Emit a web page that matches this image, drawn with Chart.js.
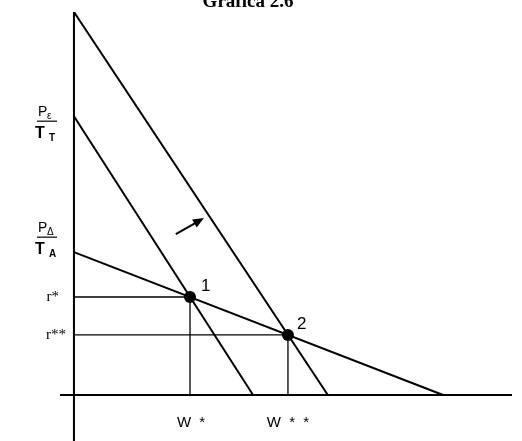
<!DOCTYPE html>
<html>
<head>
<meta charset="utf-8">
<script src="https://cdn.jsdelivr.net/npm/chart.js@4"></script>
<style>
  body { margin: 0; background: #fff; }
  canvas { display: block; }
</style>
</head>
<body>
<canvas id="myChart" width="522" height="441"></canvas>
<script>
// curves: initial line, shifted line, and the flatter one
const curveNames = ["inicial", "desplazada", "plana"];
const yIntercepts = [72.8, 100, 37.3];
const xIntercepts = [64.2, 91, 132.3];

// equilibrium points 1 and 2
const eqLabels = ["1", "2"];
const eqW = [41.6, 76.7];
const eqR = [25.6, 15.7];

const wTickLabels = ["W *", "W * *"];
const rTickLabels = ["r*", "r**"];

// arrow showing the shift
const arrowFrom = [36.5, 42.0];
const arrowTo = [46.6, 46.2];

const black = "#000";

let datasets = [];

// axes
datasets.push({ data: [{ x: 0, y: -12 }, { x: 0, y: 100 }], borderWidth: 2 });
datasets.push({ data: [{ x: -5, y: 0 }, { x: 157, y: 0 }], borderWidth: 2 });

curveNames.forEach((name, i) => {
  datasets.push({
    label: name,
    data: [{ x: 0, y: yIntercepts[i] }, { x: xIntercepts[i], y: 0 }],
    borderWidth: 2,
  });
});

eqW.forEach((w, i) => {
  datasets.push({
    data: [{ x: 0, y: eqR[i] }, { x: w, y: eqR[i] }, { x: w, y: 0 }],
    borderWidth: 1.3,
  });
});

datasets.push({
  data: eqW.map((w, i) => ({ x: w, y: eqR[i] })),
  showLine: false,
  pointRadius: 6,
  pointBackgroundColor: black,
  pointBorderWidth: 0,
});

datasets.forEach((d) => {
  d.borderColor = black;
  if (d.showLine === undefined) {
    d.showLine = true;
    d.pointRadius = 0;
  }
});

const labelsPlugin = {
  id: "labels",
  afterDatasetsDraw(chart) {
    const c = chart.ctx;
    const sx = chart.scales.x, sy = chart.scales.y;
    const px = (v) => sx.getPixelForValue(v);
    const py = (v) => sy.getPixelForValue(v);
    c.save();
    c.fillStyle = black;
    c.strokeStyle = black;

    // title, cut by the top edge
    c.font = "bold 19px 'Liberation Serif'";
    c.textAlign = "center";
    c.textBaseline = "alphabetic";
    c.fillText("Gráfica 2.6", 248, 7);

    // fractions on the y axis
    function fraction(big1, sub1, big2, sub2, cy) {
      c.textAlign = "left";
      c.textBaseline = "alphabetic";
      c.font = "14px 'Liberation Sans'";
      c.fillText(big1, 38, cy - 4);
      c.font = "10px 'Liberation Sans'";
      c.fillText(sub1, 47, cy - 1);
      c.lineWidth = 1.2;
      c.beginPath();
      c.moveTo(37, cy + 1);
      c.lineTo(57, cy + 1);
      c.stroke();
      c.font = "bold 16px 'Liberation Sans'";
      c.fillText(big2, 35, cy + 18);
      c.font = "bold 10px 'Liberation Sans'";
      c.fillText(sub2, 49, cy + 21);
    }
    fraction("P", "ε", "T", "T", py(yIntercepts[0]) + 4);
    fraction("P", "Δ", "T", "A", py(yIntercepts[2]) - 16);

    // r labels
    c.font = "15px 'Liberation Serif'";
    c.textAlign = "right";
    c.textBaseline = "middle";
    c.fillText(rTickLabels[0], 59, py(eqR[0]));
    c.fillText(rTickLabels[1], 66, py(eqR[1]));

    // W labels, centred under their guide lines
    c.font = "15px 'Liberation Sans'";
    c.textAlign = "center";
    c.textBaseline = "alphabetic";
    if (c.letterSpacing !== undefined) c.letterSpacing = "2px";
    c.fillText(wTickLabels[0], px(eqW[0]) + 2, 427);
    c.fillText(wTickLabels[1], px(eqW[1]) + 1, 427);
    if (c.letterSpacing !== undefined) c.letterSpacing = "0px";

    // point numbers
    c.textAlign = "left";
    c.font = "17px 'Liberation Sans'";
    c.fillText(eqLabels[0], px(eqW[0]) + 11, py(eqR[0]) - 6);
    c.fillText(eqLabels[1], px(eqW[1]) + 9, py(eqR[1]) - 6);

    // arrow
    const x1 = px(arrowFrom[0]), y1 = py(arrowFrom[1]);
    const x2 = px(arrowTo[0]), y2 = py(arrowTo[1]);
    const ang = Math.atan2(y2 - y1, x2 - x1);
    c.lineWidth = 2;
    c.beginPath();
    c.moveTo(x1, y1);
    c.lineTo(x2 - 8 * Math.cos(ang), y2 - 8 * Math.sin(ang));
    c.stroke();
    c.beginPath();
    c.moveTo(x2, y2);
    c.lineTo(x2 - 12 * Math.cos(ang - 0.4), y2 - 12 * Math.sin(ang - 0.4));
    c.lineTo(x2 - 12 * Math.cos(ang + 0.4), y2 - 12 * Math.sin(ang + 0.4));
    c.closePath();
    c.fill();
    c.restore();
  },
};

new Chart(document.getElementById("myChart").getContext("2d"), {
  type: "scatter",
  data: { datasets: datasets },
  options: {
    responsive: false,
    animation: false,
    layout: { autoPadding: false, padding: { left: 60, top: 12, right: 10, bottom: 0 } },
    scales: {
      x: { type: "linear", min: -5, max: 157, display: false },
      y: { type: "linear", min: -12, max: 100, display: false },
    },
    plugins: {
      legend: { display: false },
      tooltip: { enabled: false },
    },
  },
  plugins: [labelsPlugin],
});
</script>
</body>
</html>
